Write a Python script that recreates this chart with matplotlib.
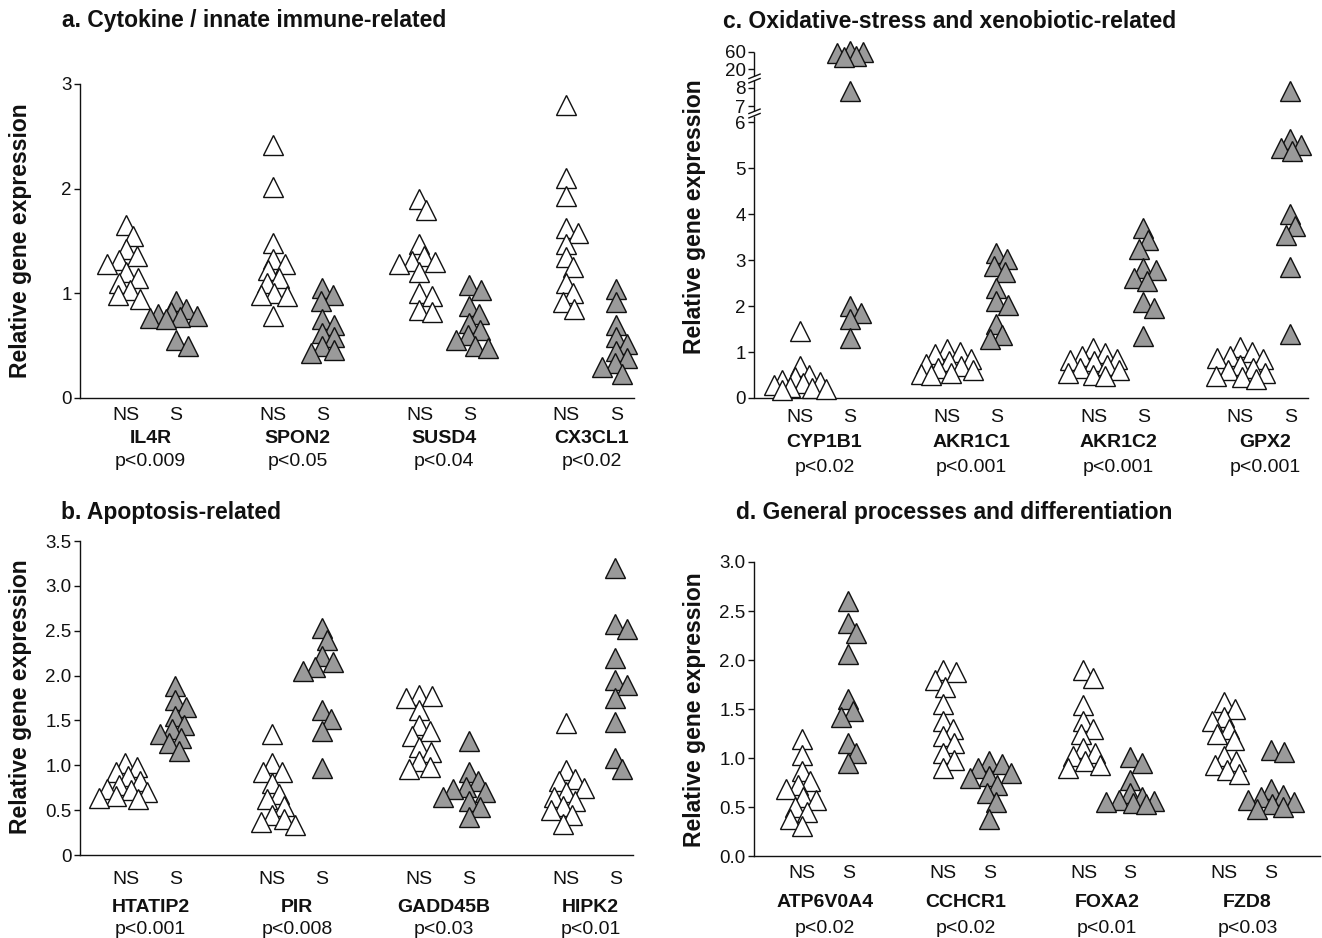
import numpy as np
import matplotlib
matplotlib.use("Agg")
import matplotlib.pyplot as plt
from matplotlib.transforms import blended_transform_factory
from matplotlib.path import Path

plt.rcParams['font.family'] = ['Liberation Sans', 'DejaVu Sans']

# ---------------- data ----------------
genes_a = ['IL4R', 'SPON2', 'SUSD4', 'CX3CL1']
pvals_a = ['p<0.009', 'p<0.05', 'p<0.04', 'p<0.02']
ns_a = [
    [1.65, 1.55, 1.42, 1.36, 1.32, 1.28, 1.20, 1.15, 1.10, 1.03, 0.98, 0.95],
    [2.42, 2.02, 1.48, 1.33, 1.28, 1.22, 1.15, 1.10, 1.00, 0.98, 0.97, 0.78],
    [1.90, 1.80, 1.47, 1.36, 1.31, 1.30, 1.28, 1.20, 1.00, 0.97, 0.84, 0.82],
    [2.80, 2.10, 1.93, 1.62, 1.58, 1.47, 1.35, 1.25, 1.10, 1.00, 0.92, 0.85],
]
s_a = [
    [0.93, 0.85, 0.82, 0.80, 0.78, 0.77, 0.76, 0.75, 0.55, 0.50],
    [1.05, 0.98, 0.93, 0.75, 0.70, 0.62, 0.58, 0.50, 0.46, 0.43],
    [1.08, 1.03, 0.88, 0.80, 0.72, 0.65, 0.60, 0.55, 0.50, 0.48],
    [1.04, 0.92, 0.70, 0.58, 0.52, 0.45, 0.38, 0.33, 0.30, 0.23],
]

genes_b = ['HTATIP2', 'PIR', 'GADD45B', 'HIPK2']
pvals_b = ['p<0.001', 'p<0.008', 'p<0.03', 'p<0.01']
ns_b = [
    [1.02, 0.98, 0.92, 0.88, 0.82, 0.78, 0.74, 0.72, 0.70, 0.66, 0.64, 0.62],
    [1.35, 1.02, 0.93, 0.92, 0.80, 0.68, 0.62, 0.55, 0.45, 0.40, 0.37, 0.33],
    [1.78, 1.77, 1.75, 1.62, 1.45, 1.38, 1.33, 1.20, 1.15, 1.05, 0.98, 0.96],
    [1.47, 0.95, 0.85, 0.83, 0.75, 0.70, 0.65, 0.60, 0.55, 0.50, 0.45, 0.35],
]
s_b = [
    [1.88, 1.73, 1.65, 1.55, 1.45, 1.40, 1.35, 1.30, 1.25, 1.16],
    [2.53, 2.40, 2.22, 2.15, 2.10, 2.05, 1.62, 1.52, 1.38, 0.97],
    [1.27, 0.92, 0.82, 0.76, 0.74, 0.70, 0.65, 0.60, 0.53, 0.42],
    [3.20, 2.58, 2.52, 2.20, 1.95, 1.90, 1.75, 1.48, 1.08, 0.96],
]

genes_c = ['CYP1B1', 'AKR1C1', 'AKR1C2', 'GPX2']
pvals_c = ['p<0.02', 'p<0.001', 'p<0.001', 'p<0.001']
ns_c = [
    [1.45, 0.70, 0.50, 0.45, 0.40, 0.35, 0.32, 0.28, 0.25, 0.22, 0.20, 0.18],
    [1.07, 1.00, 0.95, 0.85, 0.80, 0.75, 0.70, 0.65, 0.60, 0.55, 0.52, 0.50],
    [1.08, 0.97, 0.92, 0.85, 0.82, 0.80, 0.72, 0.65, 0.60, 0.55, 0.50, 0.47],
    [1.10, 1.00, 0.92, 0.88, 0.85, 0.72, 0.65, 0.60, 0.55, 0.48, 0.45, 0.42],
]
s_c = [
    [62, 60, 57, 50, 48, 7.85, 2.0, 1.85, 1.72, 1.3],
    [3.15, 3.02, 2.88, 2.75, 2.40, 2.12, 2.02, 1.62, 1.38, 1.28],
    [3.70, 3.45, 3.25, 2.82, 2.78, 2.62, 2.55, 2.08, 1.95, 1.35],
    [7.85, 5.65, 5.50, 5.45, 5.38, 4.00, 3.75, 3.55, 2.85, 1.40],
]

genes_d = ['ATP6V0A4', 'CCHCR1', 'FOXA2', 'FZD8']
pvals_d = ['p<0.02', 'p<0.02', 'p<0.01', 'p<0.03']
ns_d = [
    [1.19, 1.03, 0.87, 0.77, 0.72, 0.68, 0.60, 0.57, 0.50, 0.45, 0.38, 0.31],
    [1.90, 1.88, 1.80, 1.72, 1.55, 1.38, 1.30, 1.22, 1.15, 1.05, 0.98, 0.90],
    [1.90, 1.82, 1.54, 1.38, 1.30, 1.25, 1.10, 1.05, 1.02, 0.97, 0.93, 0.90],
    [1.57, 1.50, 1.42, 1.38, 1.30, 1.25, 1.18, 1.02, 0.97, 0.93, 0.88, 0.84],
]
s_d = [
    [2.60, 2.38, 2.28, 2.06, 1.60, 1.48, 1.42, 1.15, 1.05, 0.95],
    [0.97, 0.94, 0.90, 0.85, 0.82, 0.80, 0.72, 0.64, 0.55, 0.38],
    [1.01, 0.95, 0.78, 0.64, 0.60, 0.57, 0.56, 0.55, 0.54, 0.53],
    [1.08, 1.06, 0.68, 0.62, 0.60, 0.57, 0.55, 0.53, 0.50, 0.48],
]

titles = ['a. Cytokine / innate immune-related', 'b. Apoptosis-related',
          'c. Oxidative-stress and xenobiotic-related',
          'd. General processes and differentiation']

# broken-axis knots for panel c (value -> display units)
brk_vals = [-10, 0, 6, 7, 8, 20, 60, 1000]
brk_pos = [-10, 0, 6, 6.35, 6.75, 7.16, 7.54, 7.54 + 940 * 0.0095]

# ---------------- figure ----------------
W, H = 1322, 938
fig = plt.figure(figsize=(W / 100, H / 100), dpi=100)
INK = '#111111'
GRAY = '#9a9a9a'
MS = 14.5


def px_axes(x0, x1, ytop, ybot):
    return fig.add_axes([x0 / W, 1 - ybot / H, (x1 - x0) / W, (ybot - ytop) / H])


def style(ax, xlim, ylim, yticks, ylabels, left_spine=True):
    ax.set_xlim(*xlim)
    ax.set_ylim(*ylim)
    ax.patch.set_alpha(0)
    for s in ['top', 'right']:
        ax.spines[s].set_visible(False)
    ax.spines['left'].set_visible(left_spine)
    for s in ['left', 'bottom']:
        ax.spines[s].set_linewidth(1.0)
        ax.spines[s].set_color(INK)
    ax.set_xticks([])
    ax.set_yticks(yticks)
    ax.set_yticklabels(ylabels, fontsize=13.5, color=INK)
    ax.tick_params(axis='y', direction='out', length=4, width=1.0, pad=2, color=INK)
    ax.minorticks_off()


def swarm(ax, xc, vals, r_px=12.5, max_px=26):
    vals = np.asarray(vals, float)
    disp = ax.transData.transform(np.column_stack([np.full(len(vals), xc), vals]))
    ys = disp[:, 1]
    px_per_x = ax.transData.transform((1, 0))[0] - ax.transData.transform((0, 0))[0]
    cands = [0.0]
    for k in range(1, int(max_px) + 1):
        cands += [float(k), float(-k)]
    placed = []
    offs = np.zeros(len(vals))
    for i in np.argsort(-vals, kind='stable'):
        best_c, best_d = 0.0, -1
        for c in cands:
            if placed:
                d = min(np.hypot(c - ox, ys[i] - oy) for ox, oy in placed)
            else:
                d = np.inf
            if d >= r_px:
                best_c = c
                break
            if d > best_d:
                best_d, best_c = d, c
        offs[i] = best_c
        placed.append((best_c, ys[i]))
    return xc + offs / px_per_x


def draw_panel(ax, ns, s, genes, pvals, x0, dx, rows, s_max=26):
    tr = blended_transform_factory(ax.transData, fig.transFigure)
    for i in range(len(genes)):
        xn = x0 + i
        xs = xn + dx
        xx = swarm(ax, xn, ns[i])
        ax.plot(xx, ns[i], ls='none', marker='^', ms=MS, mfc='white', mec=INK,
                mew=1.0, clip_on=False, zorder=3)
        xx = swarm(ax, xs, s[i], max_px=s_max)
        ax.plot(xx, s[i], ls='none', marker='^', ms=MS, mfc=GRAY, mec=INK,
                mew=1.0, clip_on=False, zorder=3)
        ax.text(xn, 1 - rows[0] / H, 'NS', transform=tr, ha='center', va='center',
                fontsize=14, color=INK)
        ax.text(xs, 1 - rows[0] / H, 'S', transform=tr, ha='center', va='center',
                fontsize=14, color=INK)
        ax.text((xn + xs) / 2, 1 - rows[1] / H, genes[i], transform=tr, ha='center',
                va='center', fontsize=14, fontweight='bold', color=INK)
        ax.text((xn + xs) / 2, 1 - rows[2] / H, pvals[i], transform=tr,
                ha='center', va='center', fontsize=14, color=INK)


def ylab(x, y):
    fig.text(x / W, 1 - y / H, 'Relative gene expression', rotation=90,
             ha='center', va='center', fontsize=16.5, fontweight='bold', color=INK)


def title(x, y, t):
    fig.text(x / W, 1 - y / H, t, ha='left', va='center', fontsize=16.5,
             fontweight='bold', color=INK)


# panel a
ax_a = px_axes(80, 634, 84, 398)
style(ax_a, (0, 3.77), (0, 3), [0, 1, 2, 3], ['0', '1', '2', '3'])
draw_panel(ax_a, ns_a, s_a, genes_a, pvals_a, 0.31, 0.34, (415, 438, 461))
ylab(21, 241)
title(62, 21, titles[0])

# panel b
ax_b = px_axes(80, 633, 541, 855)
style(ax_b, (0, 3.77), (0, 3.5), [0, 0.5, 1, 1.5, 2, 2.5, 3, 3.5],
      ['0', '0.5', '1.0', '1.5', '2.0', '2.5', '3.0', '3.5'])
draw_panel(ax_b, ns_b, s_b, genes_b, pvals_b, 0.31, 0.34, (879, 907, 929))
ylab(21, 697)
title(61, 513, titles[1])

# panel c (broken axis)
ax_c = px_axes(754, 1308, 51.7, 398)


def fwd(v):
    return np.interp(v, brk_vals, brk_pos)


def inv(p):
    return np.interp(p, brk_pos, brk_vals)


ax_c.set_yscale('function', functions=(fwd, inv))
style(ax_c, (0, 3.77), (0, 60), [0, 1, 2, 3, 4, 5, 6, 7, 8, 20, 60],
      ['0', '1', '2', '3', '4', '5', '6', '7', '8', '20', '60'], left_spine=False)
ytr = ax_c.get_yaxis_transform()
g = 0.05
b1, b2 = 6.2, 6.97
for lo, hi in [(0, b1 - g), (b1 + g, b2 - g), (b2 + g, 7.54)]:
    ax_c.plot([0, 0], [inv(lo), inv(hi)], color=INK, lw=1.0, transform=ytr,
              clip_on=False, solid_capstyle='butt')
slash = Path([(-1, -0.75), (1, 0.05), (-1, -0.05), (1, 0.75)],
             [Path.MOVETO, Path.LINETO, Path.MOVETO, Path.LINETO])
for b in (b1, b2):
    ax_c.plot([0], [inv(b)], marker=slash, ms=9, mfc='none', mec=INK, mew=1.0,
              transform=ytr, clip_on=False, ls='none')
draw_panel(ax_c, ns_c, s_c, genes_c, pvals_c, 0.31, 0.34, (417, 442, 468), s_max=13)
ylab(694, 217)
title(723, 21, titles[2])

# panel d
ax_d = px_axes(754, 1320, 562, 856)
style(ax_d, (0, 4.02), (0, 3), [0, 0.5, 1, 1.5, 2, 2.5, 3],
      ['0.0', '0.5', '1.0', '1.5', '2.0', '2.5', '3.0'])
draw_panel(ax_d, ns_d, s_d, genes_d, pvals_d, 0.34, 0.33, (873, 902, 928))
ylab(694, 710)
title(736, 513, titles[3])

fig.savefig('out.png', dpi=100, facecolor='white')
